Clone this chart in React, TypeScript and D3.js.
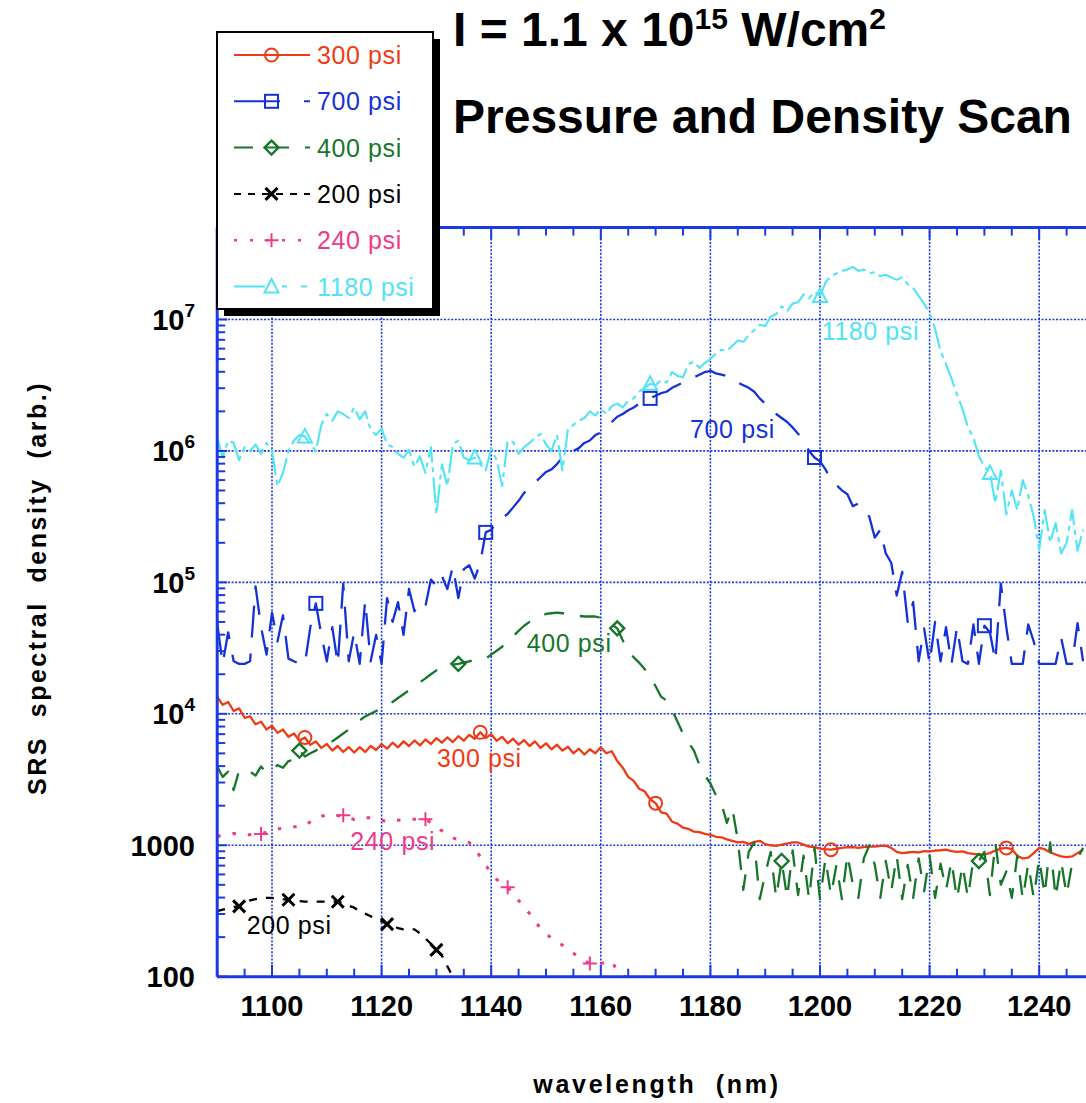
import React from 'react'
import * as d3 from 'd3'

// spectra sampled every 1 nm starting at 1090 nm
const WL0 = 1090

const psi300 = [
  1.35e4, 1.17e4, 1.23e4, 1.05e4, 1.1e4, 9.33e3, 9.55e3, 8.32e3, 8.71e3, 7.59e3,
  8.13e3, 7.16e3, 7.59e3, 6.68e3, 7.08e3, 6.24e3, 6.61e3, 5.82e3, 6.17e3, 5.5e3,
  5.89e3, 5.25e3, 5.69e3, 5.13e3, 5.58e3, 5.08e3, 5.58e3, 5.13e3, 5.69e3, 5.31e3,
  5.89e3, 5.43e3, 6.03e3, 5.56e3, 6.17e3, 5.69e3, 6.27e3, 5.75e3, 6.38e3, 5.89e3,
  6.53e3, 6.03e3, 6.61e3, 6.1e3, 6.76e3, 6.24e3, 6.92e3, 6.46e3, 7.24e3, 6.53e3,
  7.0e3, 6.24e3, 6.68e3, 5.96e3, 6.46e3, 5.82e3, 6.31e3, 5.69e3, 6.17e3, 5.5e3,
  5.96e3, 5.37e3, 5.82e3, 5.25e3, 5.62e3, 5.01e3, 5.43e3, 4.9e3, 5.37e3, 5.01e3,
  5.56e3, 5.01e3, 5.19e3, 4.37e3, 3.89e3, 3.31e3, 3.09e3, 2.69e3, 2.57e3, 2.24e3,
  2.09e3, 1.78e3, 1.74e3, 1.51e3, 1.46e3, 1.36e3, 1.33e3, 1.27e3, 1.26e3, 1.22e3,
  1.2e3, 1.16e3, 1.15e3, 1.11e3, 1.08e3, 1.05e3, 1.06e3, 1.02e3, 1.06e3, 1.08e3,
  1.02e3, 1.0e3, 988, 1.01e3, 1.03e3, 1.05e3, 1.05e3, 1.01e3, 977, 966,
  944, 933, 925, 944, 955, 966, 968, 955, 966, 977,
  977, 988, 991, 955, 891, 871, 881, 891, 881, 902,
  897, 912, 916, 925, 902, 891, 897, 871, 861, 851,
  851, 871, 912, 944, 955, 933, 832, 794, 804, 871,
  955, 933, 881, 851, 822, 813, 822, 871, 925,
]

const psi700 = [
  4.9e4, 2.4e4, 4.17e4, 2.51e4, 2.4e4, 2.4e4, 2.51e4, 9.33e4, 4.57e4, 2.82e4,
  5.89e4, 3.55e4, 5.62e4, 2.63e4, 2.51e4, 2.4e4, 2.4e4, 4.57e4, 6.92e4, 3.98e4,
  2.51e4, 4.57e4, 2.4e4, 9.77e4, 2.51e4, 4.17e4, 2.4e4, 7.24e4, 2.51e4, 3.98e4,
  2.4e4, 7.59e4, 5.01e4, 7.08e4, 3.98e4, 8.91e4, 6.03e4, 7.08e4, 6.61e4, 1.05e5,
  9.33e4, 1.12e5, 8.91e4, 1.32e5, 7.59e4, 1.26e5, 1.35e5, 1.07e5, 1.41e5, 2.4e5,
  2.51e5, 2.88e5, 3.09e5, 3.31e5, 3.72e5, 4.17e5, 4.79e5, 5.25e5, 5.75e5, 6.31e5,
  6.92e5, 7.24e5, 7.94e5, 8.91e5, 9.55e5, 1.0e6, 1.05e6, 1.15e6, 1.2e6, 1.32e6,
  1.38e6, 1.51e6, 1.66e6, 1.82e6, 1.91e6, 2.04e6, 2.14e6, 2.29e6, 2.4e6, 2.51e6,
  2.63e6, 2.75e6, 2.82e6, 3.02e6, 3.16e6, 3.31e6, 3.47e6, 3.63e6, 3.8e6, 3.98e6,
  4.07e6, 3.89e6, 3.8e6, 3.72e6, 3.55e6, 3.31e6, 3.16e6, 3.02e6, 2.82e6, 2.51e6,
  2.29e6, 2.09e6, 1.91e6, 1.78e6, 1.66e6, 1.51e6, 1.35e6, 1.2e6, 1.0e6, 8.91e5,
  8.32e5, 7.24e5, 6.03e5, 5.5e5, 5.01e5, 4.68e5, 3.8e5, 3.98e5, 3.55e5, 3.16e5,
  2.19e5, 2.51e5, 1.66e5, 1.41e5, 7.94e4, 1.2e5, 5.01e4, 7.08e4, 2.51e4, 4.47e4,
  2.4e4, 5.01e4, 2.51e4, 4.57e4, 2.4e4, 4.57e4, 2.51e4, 2.4e4, 4.79e4, 2.4e4,
  4.68e4, 4.17e4, 2.51e4, 9.77e4, 4.57e4, 2.4e4, 2.4e4, 2.4e4, 4.79e4, 3.55e4,
  2.4e4, 2.4e4, 2.4e4, 2.4e4, 3.8e4, 2.4e4, 2.4e4, 4.9e4, 2.51e4,
]

const psi400 = [
  3.98e3, 3.31e3, 3.63e3, 2.63e3, 3.72e3, 3.55e3, 3.63e3, 3.39e3, 3.98e3, 3.55e3,
  3.8e3, 4.07e3, 3.89e3, 4.37e3, 4.47e3, 5.25e3, 4.73e3, 5.01e3, 5.25e3, 5.62e3,
  5.89e3, 6.17e3, 6.61e3, 7.08e3, 7.59e3, 8.13e3, 8.91e3, 9.55e3, 1.0e4, 1.05e4,
  1.1e4, 1.15e4, 1.23e4, 1.32e4, 1.41e4, 1.51e4, 1.62e4, 1.74e4, 1.86e4, 2.0e4,
  2.14e4, 2.24e4, 2.29e4, 2.37e4, 2.4e4, 2.45e4, 2.51e4, 2.57e4, 2.6e4, 2.63e4,
  2.82e4, 3.02e4, 3.24e4, 3.55e4, 3.89e4, 4.27e4, 4.68e4, 5.01e4, 5.25e4, 5.5e4,
  5.75e4, 5.82e4, 5.89e4, 5.82e4, 5.75e4, 5.62e4, 5.56e4, 5.5e4, 5.5e4, 5.5e4,
  5.37e4, 5.13e4, 4.79e4, 4.47e4, 3.63e4, 3.02e4, 2.69e4, 2.45e4, 2.19e4, 1.91e4,
  1.62e4, 1.35e4, 1.26e4, 1.07e4, 8.71e3, 7.08e3, 6.03e3, 5.25e3, 4.07e3, 3.39e3,
  2.95e3, 2.4e3, 2.09e3, 1.48e3, 1.91e3, 1.1e3, 457, 891, 1.05e3, 389,
  603, 891, 398, 759, 398, 912, 417, 832, 389, 955,
  389, 794, 417, 708, 389, 851, 501, 398, 794, 1.0e3,
  708, 398, 759, 447, 832, 389, 708, 398, 794, 447,
  832, 398, 724, 457, 759, 389, 708, 398, 794, 759,
  891, 417, 1.05e3, 501, 631, 398, 832, 389, 724, 398,
  794, 417, 1.05e3, 398, 759, 417, 724, 794, 955,
]

const psi200 = [
  316, 324, 331, 339, 343, 355, 380, 389, 394, 398,
  398, 394, 389, 385, 380, 376, 372, 372, 372, 372,
  373, 373, 372, 363, 347, 335, 316, 302, 288, 275,
  263, 251, 245, 234, 229, 229, 229, 214, 195, 178,
  160, 145, 120, 100,
]

const psi240 = [
  1.17e3, 1.19e3, 1.2e3, 1.23e3, 1.22e3, 1.2e3, 1.2e3, 1.2e3, 1.22e3, 1.26e3,
  1.32e3, 1.33e3, 1.35e3, 1.36e3, 1.38e3, 1.38e3, 1.41e3, 1.51e3, 1.62e3, 1.66e3,
  1.7e3, 1.7e3, 1.68e3, 1.69e3, 1.62e3, 1.57e3, 1.58e3, 1.62e3, 1.62e3, 1.58e3,
  1.55e3, 1.51e3, 1.53e3, 1.55e3, 1.57e3, 1.58e3, 1.58e3, 1.58e3, 1.58e3, 1.48e3,
  1.35e3, 1.29e3, 1.2e3, 1.14e3, 1.1e3, 1.07e3, 1.05e3, 933, 822, 708,
  603, 550, 501, 479, 427, 380, 343, 302, 263, 234,
  214, 195, 182, 174, 162, 151, 141, 132, 126, 123,
  126, 129, 132, 110, 102, 98,
]

const psi1180 = [
  1.26e6, 8.9e5, 1.2e6, 1.15e6, 8.5e5, 1.07e6, 1.0e6, 1.12e6, 9.5e5, 1.15e6,
  1.0e6, 5.4e5, 6.8e5, 1.0e6, 1.2e6, 1.32e6, 1.29e6, 1.12e6, 1.0e6, 1.58e6,
  1.91e6, 1.7e6, 2.0e6, 1.91e6, 1.78e6, 2.14e6, 1.74e6, 2.0e6, 1.45e6, 1.32e6,
  1.48e6, 1.12e6, 1.07e6, 9.5e5, 8.9e5, 1.02e6, 7.6e5, 9.1e5, 6.8e5, 1.07e6,
  3.3e5, 7.9e5, 5.4e5, 1.12e6, 1.2e6, 8.9e5, 8.5e5, 8.9e5, 7.9e5, 7.1e5,
  1.05e6, 8.5e5, 5.4e5, 1.2e6, 1.17e6, 9.5e5, 1.07e6, 1.15e6, 1.26e6, 1.35e6,
  1.12e6, 1.0e6, 1.32e6, 7.1e5, 1.45e6, 1.58e6, 1.7e6, 1.78e6, 2.0e6, 1.86e6,
  2.09e6, 1.91e6, 2.19e6, 2.29e6, 2.14e6, 2.4e6, 2.51e6, 2.82e6, 3.02e6, 3.24e6,
  3.16e6, 3.47e6, 3.31e6, 3.98e6, 3.72e6, 3.63e6, 4.57e6, 4.79e6, 4.27e6, 4.68e6,
  5.0e6, 5.5e6, 5.89e6, 5.75e6, 6.31e6, 6.92e6, 6.76e6, 7.59e6, 8.32e6, 9.12e6,
  8.91e6, 1.05e7, 1.1e7, 1.26e7, 1.15e7, 1.32e7, 1.35e7, 1.55e7, 1.45e7, 1.62e7,
  1.51e7, 1.91e7, 2.14e7, 2.24e7, 2.34e7, 2.4e7, 2.51e7, 2.34e7, 2.4e7, 2.24e7,
  2.29e7, 2.14e7, 2.19e7, 2.09e7, 2.0e7, 2.09e7, 1.86e7, 1.74e7, 1.51e7, 1.32e7,
  1.12e7, 8.51e6, 5.75e6, 4.57e6, 3.55e6, 2.69e6, 2.09e6, 1.51e6, 1.26e6, 9.1e5,
  7.6e5, 6.8e5, 4.0e5, 7.1e5, 3.3e5, 5.0e5, 3.55e5, 6.0e5, 4.57e5, 3.16e5,
  1.78e5, 3.55e5, 2.0e5, 2.82e5, 1.66e5, 2.0e5, 3.55e5, 1.74e5, 2.51e5,
]

// wavelengths (nm) where the plot symbols sit
const marks300 = [1106, 1138, 1170, 1202, 1234]
const marks700 = [1108, 1139, 1169, 1199, 1230]
const marks400 = [1105, 1134, 1163, 1193, 1229]
const marks200 = [1094, 1103, 1112, 1121, 1130]
const marks240 = [1098, 1113, 1128, 1143, 1158]
const marks1180 = [1106, 1137, 1169, 1200, 1231]

const xTickValues = [1100, 1120, 1140, 1160, 1180, 1200, 1220, 1240]
const yDecades = [100, 1000, 1e4, 1e5, 1e6, 1e7]
const yTickBase = ['100', '1000', '10', '10', '10', '10']
const yTickExp = ['', '', '4', '5', '6', '7']

const FONT = '"Liberation Sans", Arial, Helvetica, sans-serif'
const AXIS = '#1b3ae0'

const Marker = ({ type, cx, cy, color }) => {
  const s = { fill: 'none', stroke: color, strokeWidth: 2 }
  if (type === 'circle') return <circle cx={cx} cy={cy} r={6.5} {...s} />
  if (type === 'square') return <rect x={cx - 6.5} y={cy - 6.5} width={13} height={13} {...s} />
  if (type === 'diamond')
    return <path d={`M${cx},${cy - 7}L${cx + 7},${cy}L${cx},${cy + 7}L${cx - 7},${cy}Z`} {...s} strokeWidth={2.4} />
  if (type === 'x')
    return (
      <path
        d={`M${cx - 6},${cy - 6}L${cx + 6},${cy + 6}M${cx - 6},${cy + 6}L${cx + 6},${cy - 6}`}
        {...s}
        strokeWidth={3}
      />
    )
  if (type === 'plus') return <path d={`M${cx - 7},${cy}L${cx + 7},${cy}M${cx},${cy - 7}L${cx},${cy + 7}`} {...s} />
  return <path d={`M${cx},${cy - 7.5}L${cx + 7},${cy + 6}L${cx - 7},${cy + 6}Z`} {...s} />
}

const App = () => {
  const x = d3.scaleLinear().domain([1090, 1250]).range([217.2, 1094])
  const y = d3.scaleLog().domain([100, 5e7]).range([976.7, 227.6])

  const series = [
    { name: '300 psi', values: psi300, marks: marks300, color: '#ee3b16', marker: 'circle', dash: null, legendDash: null, width: 2.3, label: [1130.1, 3950] },
    { name: '700 psi', values: psi700, marks: marks700, color: '#1532d6', marker: 'square', dash: '32 16', legendDash: '46 24 6 30', width: 2.3, label: [1176.3, 1.25e6] },
    { name: '400 psi', values: psi400, marks: marks400, color: '#17762a', marker: 'diamond', dash: '20 16', legendDash: '19 11 25 16 6 20', width: 2.3, label: [1146.5, 2.96e4] },
    { name: '200 psi', values: psi200, marks: marks200, color: '#000000', marker: 'x', dash: '8 9', legendDash: '7 7', width: 2.3, label: [1095.4, 211] },
    { name: '240 psi', values: psi240, marks: marks240, color: '#ee3a8b', marker: 'plus', dash: '3.5 12', legendDash: '3 13', width: 3, label: [1114.3, 918] },
    { name: '1180 psi', values: psi1180, marks: marks1180, color: '#52e4f5', marker: 'triangle', dash: '26 5 5 5', legendDash: '31 17 5 14 6 20', width: 2.1, label: [1200.3, 6.95e6] },
  ]

  const lineGen = d3
    .line<number>()
    .x((_, i) => x(WL0 + i))
    .y((v) => y(v))

  const yMinor = y.ticks().filter((t) => !yDecades.includes(t) && t <= 5e7)
  const xMinor = d3.range(1090, 1251, 5).filter((t) => t % 20 !== 0)

  const [x0, x1] = x.range()
  const [yb, yt] = y.range()

  const legendRows = series.map((s, i) => ({ ...s, ry: 55 + i * 46.3 }))

  return (
    <div style={{ position: 'absolute', left: 0, top: 0 }}>
      <svg width={1086} height={1103} style={{ display: 'block', background: '#fff', fontFamily: FONT }}>
        <defs>
          <clipPath id="plotClip">
            <rect x={x0} y={yt} width={x1 - x0} height={yb - yt} />
          </clipPath>
        </defs>

        {/* grid */}
        <g stroke={AXIS} strokeWidth={1.6} strokeDasharray="2 1.6">
          {xTickValues.map((t) => (
            <line key={'gx' + t} x1={x(t)} x2={x(t)} y1={yt} y2={yb} />
          ))}
          {yDecades.map((t) => (
            <line key={'gy' + t} x1={x0} x2={x1} y1={y(t)} y2={y(t)} />
          ))}
        </g>

        {/* spectra */}
        <g clipPath="url(#plotClip)">
          {series.map((s) => (
            <path
              key={s.name}
              d={lineGen(s.values)}
              fill="none"
              stroke={s.color}
              strokeWidth={s.width}
              strokeDasharray={s.dash || undefined}
              strokeLinejoin="round"
            />
          ))}
          {series.map((s) =>
            s.marks.map((m) => (
              <Marker key={s.name + m} type={s.marker} cx={x(m)} cy={y(s.values[m - WL0])} color={s.color} />
            ))
          )}
        </g>

        {/* axes */}
        <g stroke={AXIS} strokeWidth={2}>
          {yMinor.map((t) => (
            <line key={'ym' + t} x1={x0} x2={x0 + 8} y1={y(t)} y2={y(t)} />
          ))}
          {yDecades.map((t) => (
            <line key={'yM' + t} x1={x0} x2={x0 + 10} y1={y(t)} y2={y(t)} />
          ))}
          {xMinor.map((t) => (
            <g key={'xm' + t}>
              <line x1={x(t)} x2={x(t)} y1={yb} y2={yb - 8} />
              <line x1={x(t)} x2={x(t)} y1={yt} y2={yt + 8} />
            </g>
          ))}
          {xTickValues.map((t) => (
            <g key={'xM' + t}>
              <line x1={x(t)} x2={x(t)} y1={yb} y2={yb - 12} />
              <line x1={x(t)} x2={x(t)} y1={yt} y2={yt + 12} />
            </g>
          ))}
          <line x1={x0} x2={x1} y1={yb} y2={yb} strokeWidth={3} />
          <line x1={x0} x2={x1} y1={yt} y2={yt} strokeWidth={3} />
          <line x1={x0} x2={x0} y1={yt} y2={yb} strokeWidth={3} />
        </g>

        {/* tick labels */}
        <g fontWeight="bold" fontSize={29} fill="#000">
          {xTickValues.map((t) => (
            <text key={'xl' + t} x={x(t)} y={1016} textAnchor="middle">
              {t}
            </text>
          ))}
          {yDecades.map((t, i) => (
            <text key={'yl' + t} x={195} y={y(t) + 10.5} textAnchor="end">
              {yTickBase[i]}
              {yTickExp[i] && (
                <tspan fontSize={19} dy={-13}>
                  {yTickExp[i]}
                </tspan>
              )}
            </text>
          ))}
        </g>

        {/* axis titles */}
        <text x={657} y={1093} textAnchor="middle" fontWeight="bold" fontSize={25} letterSpacing={2.7} style={{ whiteSpace: 'pre' }}>
          {'wavelength  (nm)'}
        </text>
        <text
          transform="translate(46,588) rotate(-90)"
          textAnchor="middle"
          fontWeight="bold"
          fontSize={25}
          letterSpacing={2.5}
          style={{ whiteSpace: 'pre' }}
        >
          {'SRS  spectral  density  (arb.)'}
        </text>

        {/* in-plot series labels */}
        <g fontSize={25} letterSpacing={0.6}>
          {series.map((s) => (
            <text key={'lab' + s.name} x={x(s.label[0])} y={y(s.label[1])} fill={s.color}>
              {s.name}
            </text>
          ))}
        </g>

        {/* legend */}
        <rect x={224} y={39} width={216} height={277} fill="#000" />
        <rect x={217} y={32} width={216} height={277} fill="#fff" stroke="#000" strokeWidth={2} />
        {legendRows.map((s) => (
          <g key={'lg' + s.name}>
            <line
              x1={234}
              x2={310}
              y1={s.ry}
              y2={s.ry}
              stroke={s.color}
              strokeWidth={s.name === '240 psi' ? 2.6 : 2}
              strokeDasharray={s.legendDash || undefined}
            />
            <Marker type={s.marker} cx={271.5} cy={s.ry} color={s.color} />
            <text x={317} y={s.ry + 9} fontSize={25} letterSpacing={0.6} fill={s.color}>
              {s.name}
            </text>
          </g>
        ))}

        {/* titles */}
        <text x={453} y={46} fontWeight="bold" fontSize={48} fill="#000">
          {'I = 1.1 x 10'}
          <tspan fontSize={30} dy={-17}>
            15
          </tspan>
          <tspan dy={17}>{' W/cm'}</tspan>
          <tspan fontSize={30} dy={-17}>
            2
          </tspan>
        </text>
        <text x={453} y={133} fontWeight="bold" fontSize={48} fill="#000">
          Pressure and Density Scan
        </text>
      </svg>
    </div>
  )
}

export default App
